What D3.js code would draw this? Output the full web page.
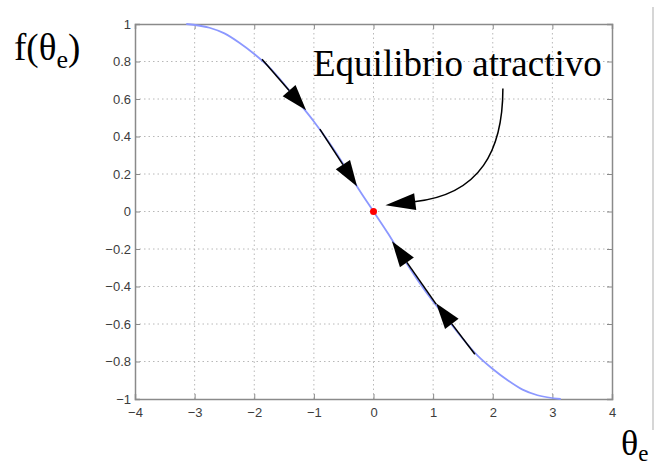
<!DOCTYPE html>
<html>
<head>
<meta charset="utf-8">
<script src="https://cdn.jsdelivr.net/npm/d3@7"></script>
<style>
  html, body { margin: 0; padding: 0; background: #fff; }
  svg { display: block; }
</style>
</head>
<body>
<svg id="chart" width="655" height="470"></svg>
<script>
// Curve f(theta_e) sampled along the plotted range
const thetaValues = [-3.14, -2.75, -2.5, -2.25, -2.0, -1.75, -1.5, -1.25, -1.0, -0.75, -0.5, -0.25, 0,
                      0.25, 0.5, 0.75, 1.0, 1.25, 1.5, 1.75, 2.0, 2.25, 2.5, 2.75, 3.14];
const fValues     = [1.00, 0.98, 0.95, 0.90, 0.84, 0.77, 0.68, 0.58, 0.48, 0.37, 0.25, 0.12, 0,
                     -0.12, -0.25, -0.37, -0.48, -0.58, -0.68, -0.77, -0.84, -0.90, -0.95, -0.98, -1.00];

// Axis ticks
const xTicks = [-4, -3, -2, -1, 0, 1, 2, 3, 4];
const yTicks = [-1, -0.8, -0.6, -0.4, -0.2, 0, 0.2, 0.4, 0.6, 0.8, 1];

// Flow arrows along the curve: [tailTheta, tailF, tipTheta, tipF]
const flowArrows = [
  [-1.87, 0.812, -1.13, 0.54],
  [-0.90, 0.439, -0.275, 0.134],
  [1.05, -0.494, 0.31, -0.158],
  [1.70, -0.761, 1.05, -0.489]
];

// Equilibrium point
const equilibrium = [0, 0];

const svg = d3.select("#chart");
const x = d3.scaleLinear().domain([-4, 4]).range([135, 612]);
const y = d3.scaleLinear().domain([-1, 1]).range([399, 24]);

const gridColor = "#b8b8b8";
const axisColor = "#8a8a8a";

// Grid lines (dotted)
const grid = svg.append("g");
grid.selectAll("line.gx").data(xTicks.slice(1, -1)).join("line")
  .attr("x1", d => x(d)).attr("x2", d => x(d))
  .attr("y1", y(1)).attr("y2", y(-1))
  .attr("stroke", gridColor).attr("stroke-width", 1)
  .attr("stroke-dasharray", "1.5,3");
grid.selectAll("line.gy").data(yTicks.slice(1, -1)).join("line")
  .attr("y1", d => y(d)).attr("y2", d => y(d))
  .attr("x1", x(-4)).attr("x2", x(4))
  .attr("stroke", gridColor).attr("stroke-width", 1)
  .attr("stroke-dasharray", "1.5,3");

// Axes with inward ticks on all four sides
const tickLen = 5;
const axisFont = "Liberation Sans, Arial, sans-serif";
const fmt = d => (d < 0 ? "\u2212" : "") + d3.format("")(Math.abs(d));

const axBottom = svg.append("g").attr("transform", `translate(0,${y(-1)})`)
  .call(d3.axisBottom(x).tickValues(xTicks).tickSize(-tickLen).tickPadding(9).tickFormat(fmt));
const axTop = svg.append("g").attr("transform", `translate(0,${y(1)})`)
  .call(d3.axisTop(x).tickValues(xTicks).tickSize(-tickLen).tickFormat(""));
const axLeft = svg.append("g").attr("transform", `translate(${x(-4)},0)`)
  .call(d3.axisLeft(y).tickValues(yTicks).tickSize(-tickLen).tickPadding(4).tickFormat(fmt));
const axRight = svg.append("g").attr("transform", `translate(${x(4)},0)`)
  .call(d3.axisRight(y).tickValues(yTicks).tickSize(-tickLen).tickFormat(""));

[axBottom, axTop, axLeft, axRight].forEach(g => {
  g.select(".domain").attr("stroke", axisColor).attr("stroke-width", 1.5);
  g.selectAll(".tick line").attr("stroke", axisColor).attr("stroke-width", 1);
  g.selectAll(".tick text").attr("fill", "#3c3c3c")
    .style("font-family", axisFont).style("font-size", "13px");
});

// The curve
const line = d3.line().x(d => x(d[0])).y(d => y(d[1])).curve(d3.curveMonotoneX);
svg.append("path")
  .datum(thetaValues.map((t, i) => [t, fValues[i]]))
  .attr("d", line)
  .attr("fill", "none")
  .attr("stroke", "#8c98ff")
  .attr("stroke-width", 1.8);

// Arrowhead helper: filled triangle ending at (tx, ty), pointing from (fx, fy)
function arrowHead(g, fx, fy, tx, ty, len, half) {
  const a = Math.atan2(ty - fy, tx - fx);
  const bx = tx - len * Math.cos(a), by = ty - len * Math.sin(a);
  const nx = -Math.sin(a) * half, ny = Math.cos(a) * half;
  g.append("path")
    .attr("d", `M${tx},${ty}L${bx + nx},${by + ny}L${bx - nx},${by - ny}Z`)
    .attr("fill", "#000");
  return [bx, by];
}

// Flow arrows
const arrows = svg.append("g");
flowArrows.forEach(([t0, f0, t1, f1]) => {
  const x0 = x(t0), y0 = y(f0), x1 = x(t1), y1 = y(f1);
  const [bx, by] = arrowHead(arrows, x0, y0, x1, y1, 26, 8.5);
  arrows.append("line")
    .attr("x1", x0).attr("y1", y0).attr("x2", bx).attr("y2", by)
    .attr("stroke", "#000").attr("stroke-width", 1.5);
});

// Equilibrium marker
svg.append("circle")
  .attr("cx", x(equilibrium[0])).attr("cy", y(equilibrium[1]))
  .attr("r", 3.5).attr("fill", "#ff0000");

// Curved annotation arrow from the label to the equilibrium
const ann = svg.append("g");
const p0 = [x(2.17), y(0.656)];
const c1 = [x(2.17), y(0.33)];
const c2 = [x(1.80), y(0.09)];
const p3 = [x(0.68), y(0.052)];
const tip = [x(0.20), y(0.033)];
ann.append("path")
  .attr("d", `M${p0}C${c1} ${c2} ${p3}`)
  .attr("fill", "none").attr("stroke", "#000").attr("stroke-width", 1.5);
arrowHead(ann, p3[0], p3[1], tip[0], tip[1], 30, 8.5);

// Labels
const serif = "Liberation Serif, Times New Roman, serif";
svg.append("text")
  .attr("x", 313).attr("y", 76)
  .style("font-family", serif).style("font-size", "37px")
  .attr("fill", "#000")
  .text("Equilibrio atractivo");

const fl = svg.append("text")
  .attr("x", 14).attr("y", 60)
  .style("font-family", serif).style("font-size", "37px")
  .attr("fill", "#000");
fl.append("tspan").text("f(θ");
fl.append("tspan").attr("dy", 8).style("font-size", "26px").text("e");
fl.append("tspan").attr("dy", -8).text(")");

const tl = svg.append("text")
  .attr("x", 621).attr("y", 455)
  .style("font-family", serif).style("font-size", "36px")
  .attr("fill", "#000");
tl.append("tspan").text("θ");
tl.append("tspan").attr("dy", 6).style("font-size", "23px").text("e");

// Light frame edge at the right
svg.append("line")
  .attr("x1", 653).attr("x2", 653).attr("y1", 7).attr("y2", 430)
  .attr("stroke", "#c8c8c8").attr("stroke-width", 1.5);
</script>
</body>
</html>
